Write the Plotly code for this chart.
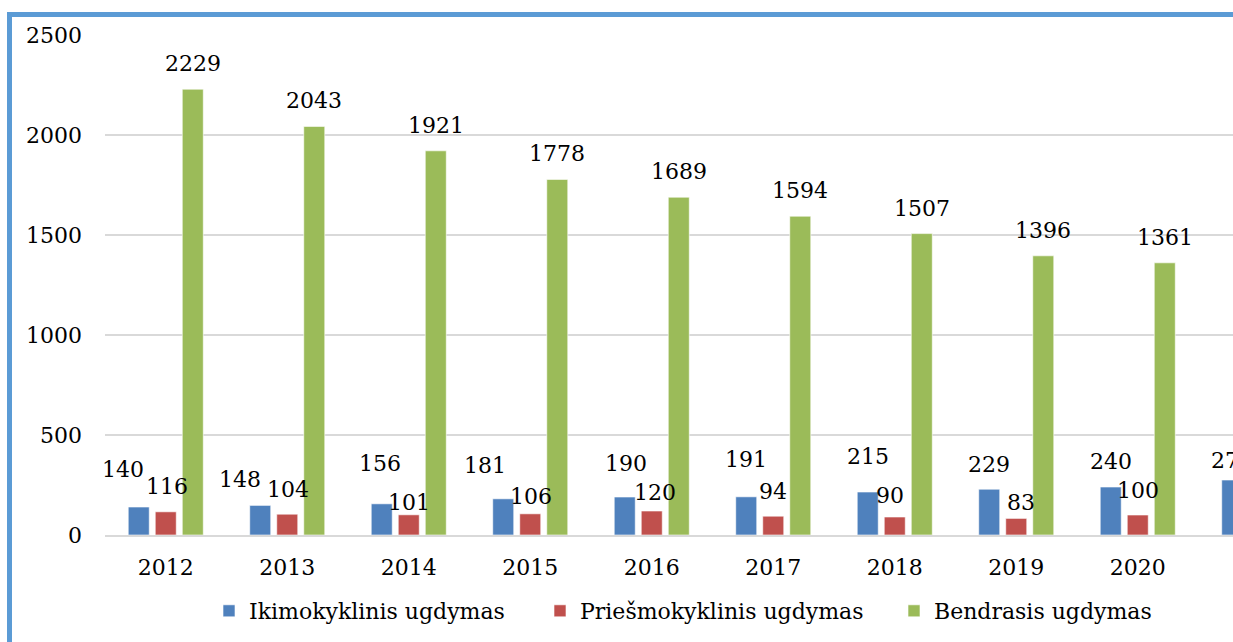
import plotly.graph_objects as go

years = ["2012", "2013", "2014", "2015", "2016", "2017", "2018", "2019", "2020", "2021"]
ikimokyklinis = [140, 148, 156, 181, 190, 191, 215, 229, 240, 275]
priesmokyklinis = [116, 104, 101, 106, 120, 94, 90, 83, 100, None]
bendrasis = [2229, 2043, 1921, 1778, 1689, 1594, 1507, 1396, 1361, None]
series_names = ["Ikimokyklinis ugdymas", "Priešmokyklinis ugdymas", "Bendrasis ugdymas"]
colors = ["#4F81BD", "#C0504D", "#9BBB59"]

# label placement tweaks (pixels), style only
blue_gap = [30, 18, 33, 26, 26, 30, 28, 17, 18, 12]
blue_dx = [-16, -20, -2, -18, 1, 0, 0, 0, 0, 0]
red_gap = [18, 17, 5, 10, 11, 17, 14, 8, 17, 18]
red_dx = [1, 1, 0, 1, 3, 0, -5, 5, 0, 0]
green_gap = [18] * 10
green_dx = [0] * 10

FONT = "DejaVu Serif"
FS = 22
bargap = 0.333
bargroupgap = 0.222
slot = (1 - bargap) / 3

W, H = 1233, 642
L, T = 105, 35
PW, PH = 1128, 500
B = H - (T + PH)

def px_x(sx):
    return (sx - L) / PW

def px_y(sy):
    return (T + PH - sy) / PH

legend_names = ["legend", "legend2", "legend3"]
legend_sym_x = [224, 555, 909]

fig = go.Figure()
all_vals = [ikimokyklinis, priesmokyklinis, bendrasis]
for name, vals, col, lg in zip(series_names, all_vals, colors, legend_names):
    fig.add_trace(go.Bar(x=years, y=vals, name=name, legend=lg,
                         marker=dict(color=col, line=dict(color="rgba(255,255,255,0.6)", width=1))))

annotations = []
gaps = [blue_gap, red_gap, green_gap]
dxs = [blue_dx, red_dx, green_dx]
for k, vals in enumerate(all_vals):
    for i, v in enumerate(vals):
        if v is None:
            continue
        annotations.append(dict(
            x=i + (k - 1) * slot, y=v, xref="x", yref="y",
            text=str(v), showarrow=False, yanchor="bottom", xanchor="center",
            yshift=gaps[k][i] - 7, xshift=dxs[k][i],
            font=dict(family=FONT, size=FS, color="#000000"),
        ))

legend_common = dict(orientation="h", xanchor="left", yanchor="middle", y=px_y(611),
                     font=dict(family=FONT, size=FS, color="#000000"),
                     bgcolor="rgba(0,0,0,0)", borderwidth=0)
leg_layout = {}
for lg, sx in zip(legend_names, legend_sym_x):
    leg_layout[lg] = dict(legend_common, x=px_x(sx - 15))

fig.update_layout(
    width=W, height=H,
    margin=dict(l=L, r=0, t=T, b=B, pad=0),
    paper_bgcolor="white", plot_bgcolor="white",
    barmode="group", bargap=bargap, bargroupgap=bargroupgap,
    font=dict(family=FONT, size=FS, color="#000000"),
    showlegend=True,
    annotations=annotations,
    shapes=[
        dict(type="line", xref="paper", yref="paper",
             x0=px_x(9.5), x1=px_x(9.5), y0=px_y(12), y1=px_y(660),
             line=dict(color="#5B9BD5", width=5)),
        dict(type="line", xref="paper", yref="paper",
             x0=px_x(7), x1=px_x(1250), y0=px_y(14.5), y1=px_y(14.5),
             line=dict(color="#5B9BD5", width=5)),
    ],
    **leg_layout,
)
fig.update_xaxes(type="category", range=[-0.5, -0.5 + PW / 121.5],
                 showgrid=False, showline=True, linecolor="#D9D9D9", linewidth=2,
                 ticks="", ticklabelstandoff=12, tickfont=dict(family=FONT, size=FS))
fig.update_yaxes(range=[0, 2500], dtick=500, showgrid=True, gridcolor="#D9D9D9", gridwidth=2,
                 zeroline=False, showline=False, ticks="", ticklabelstandoff=22,
                 tickfont=dict(family=FONT, size=FS))

fig.write_html("out.html",
               config={"displayModeBar": False},
               post_script="document.body.style.margin='0';document.body.style.overflow='hidden';")
